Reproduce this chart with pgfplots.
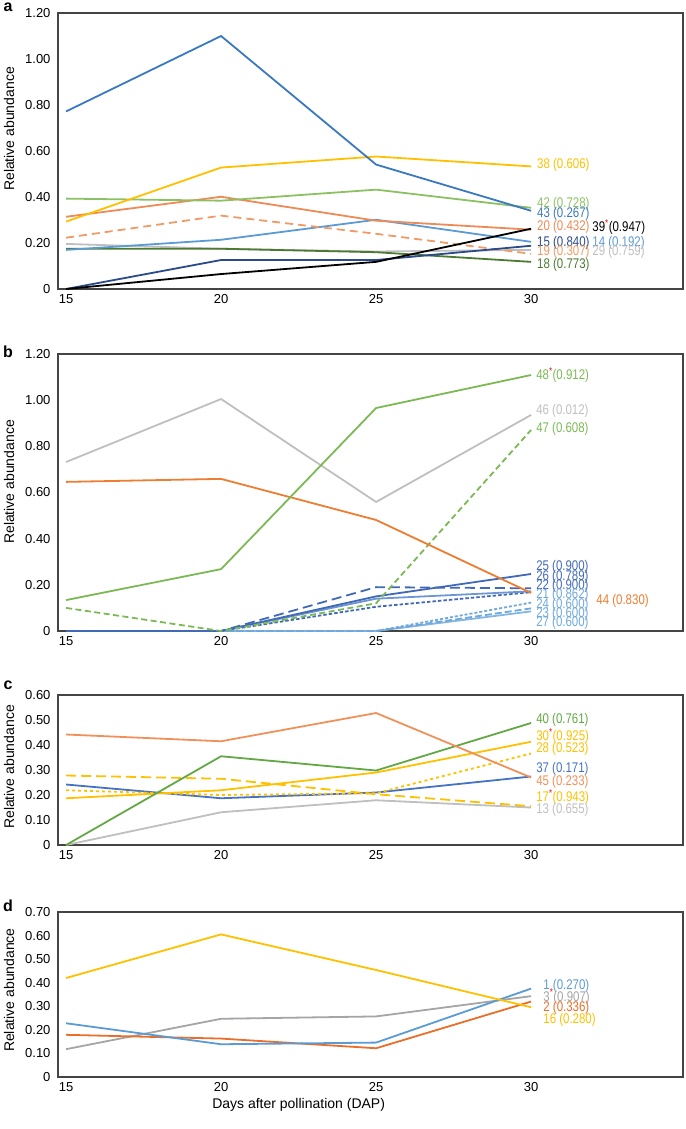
\documentclass[border=0pt]{standalone}
\usepackage{pgfplots}
\pgfplotsset{compat=1.18}
\usepackage{fontspec}
\setmainfont{Liberation Sans}
\newfontfamily\nf[FakeStretch=0.82]{Liberation Sans}
\definecolor{framec}{HTML}{444444}
\definecolor{cblue}{HTML}{3A78C0}
\definecolor{cyel}{HTML}{FFC000}
\definecolor{cgrnl}{HTML}{8BC162}
\definecolor{corg}{HTML}{EE8A55}
\definecolor{corgd}{HTML}{F09A66}
\definecolor{clblue}{HTML}{5B9BD5}
\definecolor{cgray}{HTML}{BFBFBF}
\definecolor{cdgrn}{HTML}{4C7A32}
\definecolor{cnavy}{HTML}{2B4A8A}
\definecolor{borg}{HTML}{ED7D31}
\definecolor{bgrn}{HTML}{7CB955}
\definecolor{bdblue}{HTML}{4169B8}
\definecolor{bmblue}{HTML}{4A7CC8}
\definecolor{blblue}{HTML}{6FA8DC}
\definecolor{corgc}{HTML}{F0905A}
\definecolor{cgrnc}{HTML}{62A844}
\definecolor{cbluec}{HTML}{4472C4}
\definecolor{dgray}{HTML}{A5A5A5}
\definecolor{dorg}{HTML}{E96E2A}
\newcommand{\lf}{\nf\fontsize{14}{15}\selectfont}
\newcommand{\lab}[4]{\node[anchor=west,inner sep=0pt,text=#3,font=\lf] at (axis cs:#1,#2) {#4};}
\newcommand{\st}{\textsuperscript{\textcolor{red}{*}}}
\pgfplotsset{
  panel/.style={
    scale only axis, width=625pt, clip=false,
    xmin=14.74, xmax=34.9, ymin=0,
    xtick={15,20,25,30}, xticklabels={15,20,25,30},
    major tick length=0pt, minor tick num=0,
    axis line style={draw=framec, line width=1.4pt},
    tick label style={font=\fontsize{13}{13}\selectfont},
    /pgf/number format/assume math mode=true,
    yticklabel style={xshift=-4pt},
    xticklabel style={yshift=-2pt},
    ylabel={Relative abundance},
    ylabel style={font=\fontsize{14}{14}\selectfont, at={(axis description cs:-0.0784,#1)}, anchor=center},
    every axis plot/.append style={line width=1.8pt, mark=none},
  },
}
\begin{document}
\begin{tikzpicture}
\useasboundingbox (0pt,0pt) rectangle (685pt,-1129pt);
\node[inner sep=0pt, font=\bfseries\fontsize{16}{16}\selectfont] at (8pt,-7pt) {a};
\node[inner sep=0pt, font=\bfseries\fontsize{16}{16}\selectfont] at (8pt,-352pt) {b};
\node[inner sep=0pt, font=\bfseries\fontsize{16}{16}\selectfont] at (8pt,-685pt) {c};
\node[inner sep=0pt, font=\bfseries\fontsize{16}{16}\selectfont] at (8pt,-906pt) {d};
% ---------------- panel a
\begin{axis}[panel=0.58, at={(58pt,-13pt)}, anchor=north west, height=276pt,
  ymax=1.2, ytick={0,0.2,0.4,0.6,0.8,1.0,1.2}, yticklabels={0,0.20,0.40,0.60,0.80,1.00,1.20}]
\addplot[cgray] coordinates {(15,0.196)(20,0.175)(25,0.163)(30,0.170)};
\addplot[cdgrn] coordinates {(15,0.175)(20,0.175)(25,0.160)(30,0.118)};
\addplot[clblue] coordinates {(15,0.170)(20,0.214)(25,0.301)(30,0.205)};
\addplot[corgd, dash pattern=on 8pt off 5pt] coordinates {(15,0.223)(20,0.319)(25,0.240)(30,0.153)};
\addplot[corg] coordinates {(15,0.314)(20,0.401)(25,0.297)(30,0.258)};
\addplot[cgrnl] coordinates {(15,0.393)(20,0.384)(25,0.432)(30,0.353)};
\addplot[cyel] coordinates {(15,0.293)(20,0.528)(25,0.576)(30,0.533)};
\addplot[cblue] coordinates {(15,0.772)(20,1.100)(25,0.541)(30,0.340)};
\addplot[cnavy] coordinates {(15,0)(20,0.126)(25,0.126)(30,0.188)};
\addplot[black] coordinates {(15,0)(20,0.065)(25,0.118)(30,0.262)};
\lab{30.19}{0.540}{cyel}{38 (0.606)}
\lab{30.19}{0.372}{cgrnl}{42 (0.728)}
\lab{30.19}{0.326}{cblue}{43 (0.267)}
\lab{30.19}{0.270}{corg}{20 (0.432)}
\lab{31.97}{0.270}{black}{39\st(0.947)}
\lab{30.19}{0.200}{cnavy}{15 (0.840)}
\lab{31.97}{0.200}{clblue}{14 (0.192)}
\lab{31.97}{0.161}{cgray}{29 (0.759)}
\lab{30.19}{0.161}{corgd}{19 (0.307)}
\lab{30.19}{0.104}{cdgrn}{18 (0.773)}
\end{axis}
% ---------------- panel b
\begin{axis}[panel=0.538, at={(58pt,-354pt)}, anchor=north west, height=277pt,
  ymax=1.2, ytick={0,0.2,0.4,0.6,0.8,1.0,1.2}, yticklabels={0,0.20,0.40,0.60,0.80,1.00,1.20}]
\addplot[blblue!85!white] coordinates {(15,0)(20,0)(25,0)(30,0.085)};
\addplot[blblue, dash pattern=on 7pt off 3pt] coordinates {(15,0)(20,0)(25,0)(30,0.098)};
\addplot[blblue, dash pattern=on 3pt off 2pt] coordinates {(15,0)(20,0)(25,0)(30,0.123)};
\addplot[bdblue, dash pattern=on 3.5pt off 2pt] coordinates {(15,0)(20,0)(25,0.105)(30,0.168)};
\addplot[bmblue!80!white] coordinates {(15,0)(20,0)(25,0.140)(30,0.172)};
\addplot[bdblue, dash pattern=on 10pt off 5pt] coordinates {(15,0)(20,0)(25,0.190)(30,0.185)};
\addplot[bdblue] coordinates {(15,0)(20,0)(25,0.150)(30,0.247)};
\addplot[bgrn, dash pattern=on 6pt off 3.5pt] coordinates {(15,0.100)(20,0)(25,0.120)(30,0.871)};
\addplot[borg] coordinates {(15,0.646)(20,0.659)(25,0.481)(30,0.165)};
\addplot[cgray] coordinates {(15,0.732)(20,1.005)(25,0.559)(30,0.936)};
\addplot[bgrn] coordinates {(15,0.134)(20,0.268)(25,0.966)(30,1.109)};
\lab{30.16}{1.109}{bgrn}{48\st(0.912)}
\lab{30.16}{0.953}{cgray}{46 (0.012)}
\lab{30.16}{0.875}{bgrn}{47 (0.608)}
\lab{30.16}{0.277}{bdblue}{25 (0.900)}
\lab{30.16}{0.234}{bdblue}{26 (0.789)}
\lab{30.16}{0.195}{bdblue}{22 (0.900)}
\lab{30.16}{0.156}{blblue}{21 (0.862)}
\lab{30.16}{0.113}{blblue}{24 (0.600)}
\lab{30.16}{0.074}{blblue}{23 (0.600)}
\lab{30.16}{0.035}{blblue}{27 (0.600)}
\lab{32.10}{0.130}{borg}{44 (0.830)}
\end{axis}
% ---------------- panel c
\begin{axis}[panel=0.52, at={(58pt,-695pt)}, anchor=north west, height=150pt,
  ymax=0.6, ytick={0,0.1,0.2,0.3,0.4,0.5,0.6}, yticklabels={0,0.10,0.20,0.30,0.40,0.50,0.60}]
\addplot[cgray] coordinates {(15,0)(20,0.131)(25,0.179)(30,0.150)};
\addplot[cbluec] coordinates {(15,0.242)(20,0.187)(25,0.210)(30,0.274)};
\addplot[cyel, dash pattern=on 10pt off 5pt] coordinates {(15,0.278)(20,0.265)(25,0.203)(30,0.155)};
\addplot[cyel, dash pattern=on 3pt off 3pt] coordinates {(15,0.219)(20,0.200)(25,0.207)(30,0.366)};
\addplot[cyel] coordinates {(15,0.187)(20,0.219)(25,0.290)(30,0.413)};
\addplot[cgrnc] coordinates {(15,0)(20,0.355)(25,0.298)(30,0.488)};
\addplot[corgc] coordinates {(15,0.442)(20,0.415)(25,0.528)(30,0.270)};
\lab{30.16}{0.500}{cgrnc}{40 (0.761)}
\lab{30.16}{0.436}{cyel}{30\st(0.925)}
\lab{30.16}{0.384}{cyel}{28 (0.523)}
\lab{30.16}{0.304}{cbluec}{37 (0.171)}
\lab{30.16}{0.253}{corgc}{45 (0.233)}
\lab{30.16}{0.193}{cyel}{17\st(0.943)}
\lab{30.16}{0.140}{cgray}{13 (0.655)}
\end{axis}
% ---------------- panel d
\begin{axis}[panel=0.527, at={(58pt,-912pt)}, anchor=north west, height=165pt,
  ymax=0.7, ytick={0,0.1,0.2,0.3,0.4,0.5,0.6,0.7}, yticklabels={0,0.10,0.20,0.30,0.40,0.50,0.60,0.70},
  xlabel={Days after pollination (DAP)},
  xlabel style={at={(ticklabel cs:0.385)}, font=\fontsize{14}{14}\selectfont}]
\addplot[dgray] coordinates {(15,0.118)(20,0.247)(25,0.257)(30,0.343)};
\addplot[dorg] coordinates {(15,0.179)(20,0.163)(25,0.122)(30,0.320)};
\addplot[clblue] coordinates {(15,0.228)(20,0.139)(25,0.146)(30,0.375)};
\addplot[cyel] coordinates {(15,0.420)(20,0.605)(25,0.454)(30,0.296)};
\lab{30.39}{0.386}{clblue}{1 (0.270)}
\lab{30.39}{0.341}{dgray}{3\st(0.907)}
\lab{30.39}{0.293}{dorg}{2 (0.336)}
\lab{30.39}{0.242}{cyel}{16 (0.280)}
\end{axis}
\end{tikzpicture}
\end{document}
